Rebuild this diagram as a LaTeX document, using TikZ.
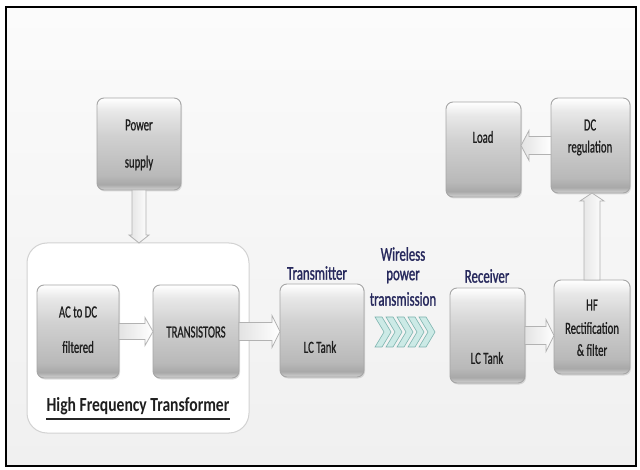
\documentclass[tikz,border=0pt]{standalone}
\usepackage{fontspec}
\setmainfont{Carlito}
\newfontfamily\bxfont[FakeStretch=0.63,FakeBold=0.8]{Carlito}
\newfontfamily\lbfont[FakeStretch=0.66,FakeBold=1.2]{Carlito}
\newfontfamily\hffont[FakeStretch=0.78]{Carlito}
\usetikzlibrary{shadows,calc}
\definecolor{navy}{RGB}{38,40,92}
\definecolor{txtgray}{RGB}{30,30,30}
\definecolor{chevfill}{RGB}{204,234,230}
\definecolor{chevdraw}{RGB}{125,180,175}
\definecolor{bgtop}{RGB}{251,251,251}
\definecolor{bgbot}{RGB}{240,240,240}
\pgfdeclareverticalshading{boxshade}{100bp}{color(0bp)=(gray!35); color(25bp)=(gray!35); color(28bp)=(gray!68); color(33bp)=(gray!55); color(55bp)=(gray!36); color(68bp)=(gray!18); color(73bp)=(gray!5); color(75bp)=(white); color(100bp)=(white)}
% block arrow between two anchors: #1 = extra options, #2 start, #3 end, #4 half stem, #5 half head
\newcommand\blkarr[5][]{%
  \path let \p1=(#2), \p2=(#3), \n1={atan2(\y2-\y1,\x2-\x1)}, \n2={veclen(\x2-\x1,\y2-\y1)} in
    \pgfextra{\xdef\arrang{\n1}\xdef\arrlen{\n2}\xdef\arrx{\x1}\xdef\arry{\y1}};
  \begin{scope}[shift={(\arrx,\arry)}, rotate=\arrang]
    \draw[blk,#1] (0pt,-#4pt) -- ({(\arrlen-8)*1pt},-#4pt) -- ({(\arrlen-8)*1pt},-#5pt) -- ({\arrlen*1pt},0pt)
      -- ({(\arrlen-8)*1pt},#5pt) -- ({(\arrlen-8)*1pt},#4pt) -- (0pt,#4pt) -- cycle;
  \end{scope}}
\begin{document}
\begin{tikzpicture}[x=1pt,y=-1pt,
  box/.style={draw=gray!70, line width=0.9pt, rounded corners=7pt, shading=boxshade, inner sep=0pt, outer sep=0pt,
    drop shadow={opacity=0.25, shadow xshift=1pt, shadow yshift=-1.5pt}},
  grp/.style={draw=gray!35, line width=1pt, fill=white, rounded corners=20pt, inner sep=0pt, outer sep=0pt},
  blk/.style={draw=gray!60, line width=0.8pt, line join=miter, left color=gray!22, right color=white},
  btxt/.style={font=\bxfont\fontsize{17}{17}\selectfont, text=txtgray, inner sep=0pt},
  lbl/.style={font=\lbfont\fontsize{19.5}{19.5}\selectfont, text=navy, inner sep=0pt},
  chev/.style={fill=chevfill, draw=chevdraw, line width=0.6pt, line join=miter},
]
\useasboundingbox (0,0) rectangle (640,470);
\fill[white] (0,0) rectangle (640,470);
\draw[line width=2pt, top color=bgtop, bottom color=bgbot] (6,7) rectangle (636,466);

% group
\node[grp, minimum width=222, minimum height=190] (grp) at (138,338) {};

% boxes
\node[box, minimum width=84, minimum height=92] (ps) at (139,144) {};
\node[box, minimum width=75, minimum height=95] (load) at (483.5,149.5) {};
\node[box, minimum width=79, minimum height=95] (dcr) at (590.5,145.5) {};
\node[box, minimum width=82, minimum height=93] (acdc) at (78,331.5) {};
\node[box, minimum width=86, minimum height=93] (trans) at (196,331.5) {};
\node[box, minimum width=84, minimum height=93] (txlc) at (322,330.5) {};
\node[box, minimum width=75, minimum height=95] (rxlc) at (487.5,335.5) {};
\node[box, minimum width=76, minimum height=94] (hfr) at (592,327) {};

% block arrows
\blkarr{ps.south}{ps.south |- grp.north}{7}{10}
\blkarr{acdc.east}{trans.west |- acdc.east}{8}{14}
\blkarr{trans.east}{txlc.west |- trans.east}{9}{16}
\blkarr{rxlc.east}{hfr.west |- rxlc.east}{9}{16}
\blkarr{hfr.north}{hfr.north |- dcr.south}{8}{12}
\blkarr{dcr.west}{load.east |- dcr.west}{9}{15}

% chevrons
\foreach \i in {0,...,4}{
  \pgfmathsetmacro\xo{375+11*\i}
  \draw[chev] (\xo,317) -- (\xo+7,317) -- (\xo+16,332) -- (\xo+7,347) -- (\xo,347) -- (\xo+9,332) -- cycle;
}

% box texts
\node[btxt] (t1) at (139,125) {Power};
\node[btxt] (t2) at (139,163) {supply};
\node[btxt] (t3) at (483,137) {Load};
\node[btxt] (t4) at (590,125) {DC};
\node[btxt] (t5) at (590,148) {regulation};
\node[btxt] (t6) at (78,312) {AC to DC};
\node[btxt] (t7) at (78,347) {filtered};
\node[btxt] (t8) at (196,332) {TRANSISTORS};
\node[btxt] (t9) at (320,347) {LC Tank};
\node[btxt] (t10) at (487,358) {LC Tank};
\node[btxt] (t11) at (592,305) {HF};
\node[btxt] (t12) at (592,328) {Rectification};
\node[btxt] (t13) at (592,350) {\& filter};

% labels
\node[lbl] (l1) at (317,273) {Transmitter};
\node[lbl] (l2) at (487,276) {Receiver};
\node[lbl] (l3) at (403,254) {Wireless};
\node[lbl] (l4) at (403,277) {power};
\node[lbl] (l5) at (403,299) {transmission};

\node[font=\hffont\bfseries\fontsize{20}{20}\selectfont, text=txtgray, inner sep=0pt] (hft) at (138,406) {High Frequency Transformer};
\draw[line width=1.6pt, black!85] ([yshift=-4pt]hft.south west) -- ([yshift=-4pt]hft.south east);
\end{tikzpicture}
\end{document}
